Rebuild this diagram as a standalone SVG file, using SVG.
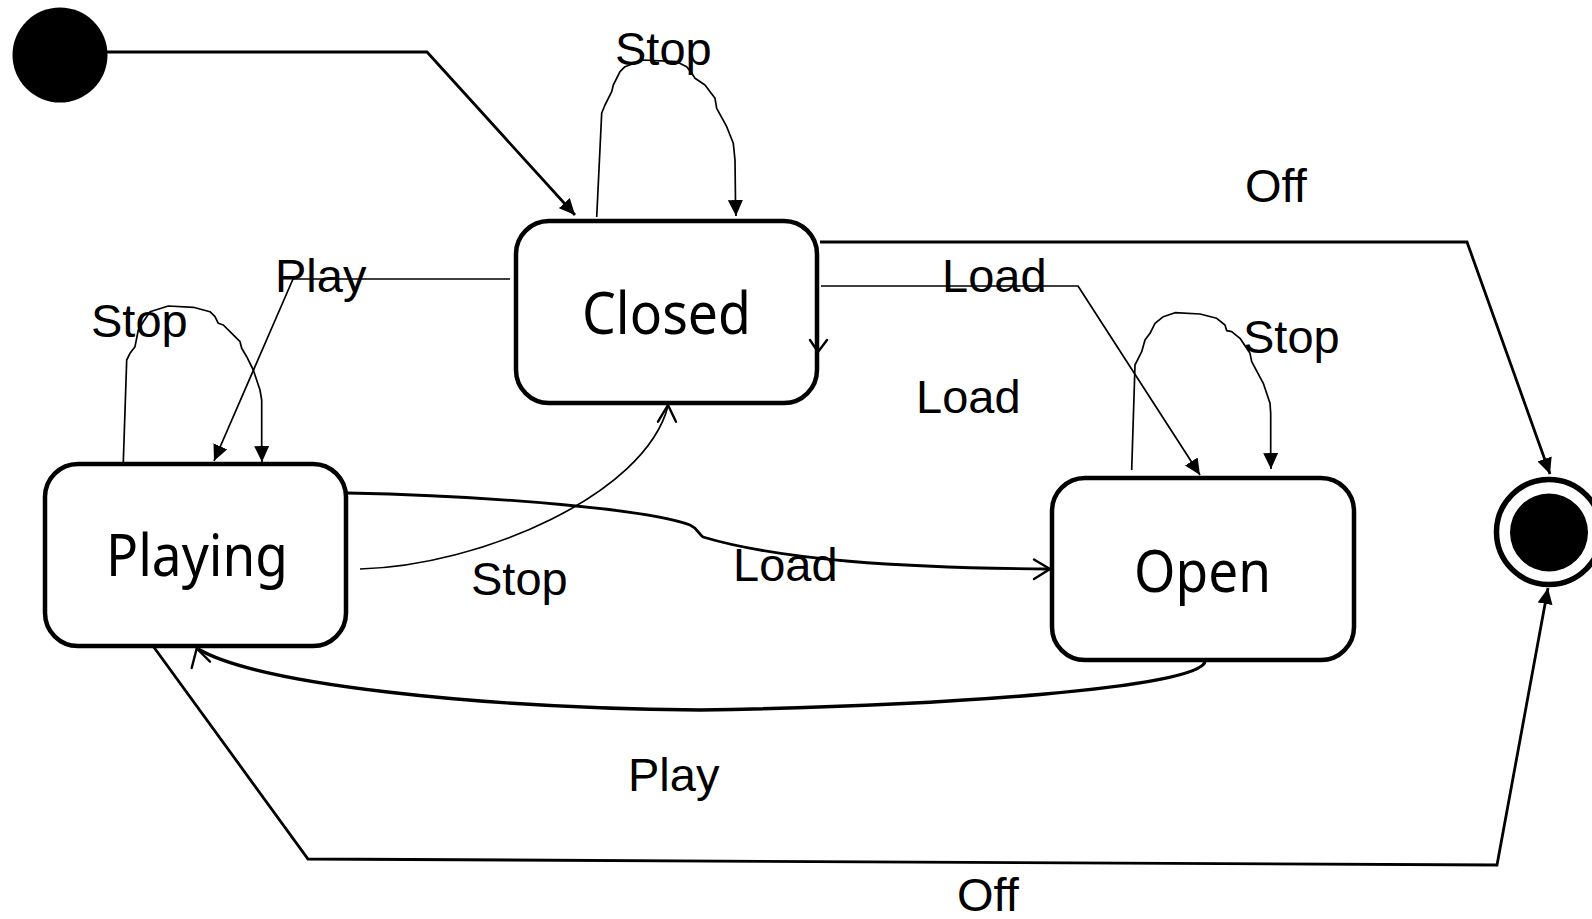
<svg xmlns="http://www.w3.org/2000/svg" width="1592" height="919" viewBox="0 0 1592 919">
  <style>
    .state rect { fill: #fff; stroke: #000; stroke-width: 4.5; }
    .state text { font-family: "Noto Sans", "Open Sans", sans-serif; font-size: 58px; fill: #000; }
    .lbl { font-family: "Liberation Sans", Arial, sans-serif; font-size: 47px; fill: #000; }
    .thin { fill: none; stroke: #000; stroke-width: 1.7; stroke-linejoin: round; }
    .thick { fill: none; stroke: #000; stroke-width: 2.8; stroke-linejoin: miter; }
    .heavy { fill: none; stroke: #000; stroke-width: 3.4; }
    .vhead { fill: none; stroke: #000; stroke-width: 2.4; stroke-linecap: round; stroke-linejoin: miter; }
  </style>
  <defs>
    <marker id="tri" markerUnits="userSpaceOnUse" markerWidth="16" markerHeight="15" refX="16" refY="7.5" orient="auto">
      <path d="M0,0 L16,7.5 L0,15 Z" fill="#000"/>
    </marker>
  </defs>

  <rect width="1592" height="919" fill="#fff"/>

  <!-- transitions -->
  <g id="connectors">
    <!-- initial -> Closed -->
    <path class="thick" d="M107,52 L427,52 L575,215" marker-end="url(#tri)"/>
    <!-- Closed -> final (Off) -->
    <path class="thick" d="M820,242 L1467,242 L1550,474" marker-end="url(#tri)"/>
    <!-- Closed -> Open (Load) -->
    <path class="thin" d="M821,286 L1078,286 L1200,475" marker-end="url(#tri)"/>
    <!-- Closed -> Playing (Play) -->
    <path class="thin" d="M510,279 L293,279 L214,461" marker-end="url(#tri)"/>
    <!-- Playing -> final (Off) -->
    <path class="thick" d="M153,646 L308,859 L1497,865 L1548,588" marker-end="url(#tri)"/>
    <!-- Closed self loop (Stop) -->
    <path class="thin" d="M596.7,217 L601.7,113 L605,105 L611.7,91.7 L613.3,85 L620,71.7 L625,66.7 L643,60 L676.7,61.7 L686.7,66.7 L691.7,73.3 L695,78.3 L705,85 L715,98.3 L716.7,108.3 L726.7,126.7 L733.3,143.3 L735,160 L735.5,201.7 L736,216" marker-end="url(#tri)"/>
    <!-- Playing self loop (Stop) -->
    <path class="thin" d="M123.3,462 L126.7,360 L130,353.3 L135,346.7 L138.3,330 L143.3,321.7 L150,311.7 L168.3,306 L193.3,307.3 L210,311.7 L215,316.7 L218.3,323.3 L223.3,325 L230,331.7 L240,341.7 L241.7,348.3 L246.7,356.7 L253.3,370 L260,390 L261.7,400 L261.7,446.7 L262,462" marker-end="url(#tri)"/>
    <!-- Open self loop (Stop) -->
    <path class="thin" d="M1131.7,470 L1135,365 L1138.3,358.3 L1141.7,351.7 L1145,340 L1150,333.3 L1155,323.3 L1163.3,316.7 L1175,312.7 L1200,314 L1216.7,318.3 L1225,325 L1226.7,330.7 L1231.7,331.7 L1240,338.3 L1250,353.3 L1251.7,361.7 L1263.3,383.3 L1270,403.3 L1270.7,413.3 L1270.7,453.3 L1271,469" marker-end="url(#tri)"/>
    <!-- Playing -> Closed (Stop) -->
    <path class="thin" d="M360,569 C480,566 645,495 668,406"/>
    <polyline class="vhead" points="658,421.7 668,405 676,421.7"/>
    <!-- Playing -> Open (Load) -->
    <path class="thick" d="M347,493 C500,496 650,510 690,525 C697,528 698,533 703,537 C780,560 900,568 1050,569"/>
    <polyline class="vhead" points="1034,559.5 1050,569 1034,579"/>
    <!-- Open -> Playing (Play) -->
    <path class="heavy" d="M1205,662 C1195,688 950,706 700,710 C480,708 260,685 198,649"/>
    <polyline class="vhead" points="191.7,668 196.7,648.5 210,661.7"/>
  </g>

  <!-- pseudo states -->
  <g id="initial">
    <circle cx="60" cy="55" r="47.5" fill="#000"/>
  </g>
  <g id="final">
    <circle cx="1549" cy="532" r="52.5" fill="#fff" stroke="#000" stroke-width="5.5"/>
    <circle cx="1549" cy="532.5" r="39" fill="#000"/>
  </g>

  <!-- states -->
  <g id="closed" class="state">
    <rect x="516" y="221" width="301" height="182" rx="33" ry="33"/>
    <text x="582" y="334" textLength="169" lengthAdjust="spacingAndGlyphs">Closed</text>
  </g>
  <g id="playing" class="state">
    <rect x="45" y="464" width="301" height="182" rx="33" ry="33"/>
    <text x="106" y="576" textLength="182" lengthAdjust="spacingAndGlyphs">Playing</text>
  </g>
  <g id="open" class="state">
    <rect x="1052" y="478" width="302" height="182" rx="33" ry="33"/>
    <text x="1134" y="592" textLength="137" lengthAdjust="spacingAndGlyphs">Open</text>
  </g>
  <!-- stray head on the Closed right edge -->
  <polyline class="vhead" points="810,340 818,352 827,340"/>

  <!-- transition labels -->
  <g id="labels">
    <text class="lbl" x="615" y="65">Stop</text>
    <text class="lbl" x="275" y="292">Play</text>
    <text class="lbl" x="91" y="337">Stop</text>
    <text class="lbl" x="1245" y="202">Off</text>
    <text class="lbl" x="942" y="292">Load</text>
    <text class="lbl" x="1243" y="353">Stop</text>
    <text class="lbl" x="916" y="413">Load</text>
    <text class="lbl" x="471" y="595">Stop</text>
    <text class="lbl" x="733" y="581">Load</text>
    <text class="lbl" x="628" y="791">Play</text>
    <text class="lbl" x="957" y="911">Off</text>
  </g>
</svg>
